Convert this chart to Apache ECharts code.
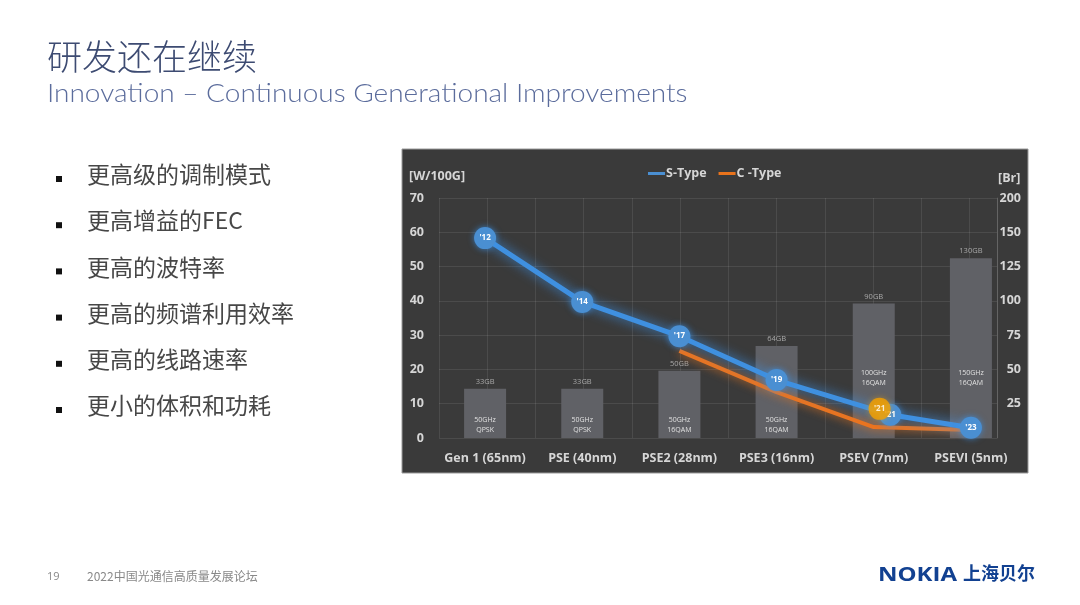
<!DOCTYPE html>
<html>
<head>
<meta charset="utf-8">
<script src="https://cdn.jsdelivr.net/npm/echarts@6/dist/echarts.min.js"></script>
<style>
html,body{margin:0;padding:0;background:#fff;}
#c{width:1080px;height:605px;}
</style>
</head>
<body>
<div id="c"></div>
<script>
// ---- data ----
const categories = ['Gen 1 (65nm)', 'PSE (40nm)', 'PSE2 (28nm)', 'PSE3 (16nm)', 'PSEV (7nm)', 'PSEVI (5nm)'];
const brValues = [36, 36, 49, 67, 98, 131];
const brTopLabels = ['33GB', '33GB', '50GB', '64GB', '90GB', '130GB'];
const brInnerLabels = ['50GHz\nQPSK', '50GHz\nQPSK', '50GHz\n16QAM', '50GHz\n16QAM', '100GHz\n16QAM', '150GHz\n16QAM'];
const sTypePos = [0, 1, 2, 3, 4.17, 5];
const sTypeValues = [58.3, 39.7, 29.7, 16.9, 6.8, 3.0];
const sTypeYears = ["'12", "'14", "'17", "'19", "'21", "'23"];
const cTypePos = [2, 3, 4, 5];
const cTypeValues = [25.4, 13.4, 3.2, 2.3];
const cMarkPos = [4.06];
const cMarkValues = [8.5];
const cMarkYears = ["'21"];
const leftTicks = [0, 10, 20, 30, 40, 50, 60, 70];
const rightTickLabels = ['', '25', '50', '75', '100', '125', '150', '200'];
const bullets = ['更高级的调制模式', '更高增益的FEC', '更高的波特率', '更高的频谱利用效率', '更高的线路速率', '更小的体积和功耗'];
const titleCN = '研发还在继续';
const titleEN = 'Innovation \u2013 Continuous Generational Improvements';
const footerPage = '19';
const footerText = '2022中国光通信高质量发展论坛';

// ---- chart ----
const chart = echarts.init(document.getElementById('c'));
const F = '"Open Sans", "Noto Sans", sans-serif';
const CJK = '"Noto Sans CJK SC", sans-serif';
const txt = '#d6d6d6';

const graphics = [
  {type:'rect', z:-10, shape:{x:402, y:149, width:626, height:324}, style:{fill:'#3a3a3a', stroke:'#9a9a9a', lineWidth:1}},
  {type:'text', left:47, top:39, style:{text:titleCN, font:'300 35px ' + CJK, fill:'#3d4b72'}},
  {type:'text', x:47, y:81, scaleX:1.12, style:{text:titleEN, font:'300 25px Lato, "Open Sans", sans-serif', fill:'#5b6c9c'}},
  {type:'text', left:409, top:170, style:{text:'[W/100G]', font:'bold 12.5px ' + F, fill:txt}},
  {type:'text', left:998, top:172, style:{text:'[Br]', font:'bold 12.5px ' + F, fill:txt}},
  {type:'text', left:47, top:571, style:{text:footerPage, font:'11px ' + F, fill:'#888'}},
  {type:'text', left:87, top:570, style:{text:footerText, font:'12px ' + CJK, fill:'#888'}},
  {type:'text', x:878, y:565, scaleX:1.2, style:{text:'NOKIA', font:'bold 20px ' + F, fill:'#124191'}},
  {type:'text', left:963, top:564, style:{text:'上海贝尔', font:'bold 18px ' + CJK, fill:'#124191'}}
];
bullets.forEach((b, i) => {
  const cy = 179 + i * 46.2;
  graphics.push({type:'rect', shape:{x:56, y:cy - 3, width:6, height:6}, style:{fill:'#111'}});
  graphics.push({type:'text', left:87, top:cy - 16, style:{text:b, font:'23px ' + CJK, fill:'#474747'}});
});

const option = {
  backgroundColor: '#fff',
  animation: false,
  graphic: graphics,
  legend: {
    left: 643, top: 162, itemWidth: 17, itemHeight: 3, itemGap: 12,
    data: [{name:'S-Type', icon:'rect'}, {name:'C -Type', icon:'rect'}],
    textStyle: {color: txt, fontFamily: F, fontWeight: 'bold', fontSize: 12.5, padding:[0,0,0,-4]}
  },
  grid: [
    {left: 436.5, top: 198, width: 583, height: 240},
    {left: 439, top: 198, width: 558, height: 240}
  ],
  xAxis: [
    {type:'category', gridIndex:0, data:categories,
     axisLine:{show:false}, axisTick:{show:false}, splitLine:{show:false},
     axisLabel:{interval:0, color:txt, fontFamily:F, fontWeight:'bold', fontSize:12.5, margin:14}},
    {type:'value', gridIndex:0, min:-0.5, max:5.5, show:false},
    {type:'value', gridIndex:1, min:0, max:11.57, interval:1,
     axisLine:{show:false}, axisTick:{show:false}, axisLabel:{show:false},
     splitLine:{show:true, lineStyle:{color:'rgba(255,255,255,0.09)', width:1}}}
  ],
  yAxis: [
    {type:'value', gridIndex:0, min:0, max:70, show:false},
    {type:'value', gridIndex:0, min:0, max:175, show:false},
    {type:'value', gridIndex:1, min:0, max:70, interval:10, position:'left',
     axisLine:{show:false}, axisTick:{show:false},
     axisLabel:{color:txt, fontFamily:F, fontWeight:'bold', fontSize:12.5, margin:15,
       formatter: v => String(leftTicks[Math.round(v/10)])},
     splitLine:{show:true, lineStyle:{color:'rgba(255,255,255,0.09)', width:1}}},
    {type:'value', gridIndex:1, min:0, max:70, interval:10, position:'right',
     axisLine:{show:true, lineStyle:{color:'rgba(255,255,255,0.14)'}}, axisTick:{show:false},
     axisLabel:{color:txt, fontFamily:F, fontWeight:'bold', fontSize:12.5, margin:24, align:'right',
       formatter: v => rightTickLabels[Math.round(v/10)]},
     splitLine:{show:false}}
  ],
  series: [
    {type:'bar', name:'Br', xAxisIndex:0, yAxisIndex:1, barWidth:42, z:1,
     data: brValues.map((v, i) => ({value:v, label:{formatter:brTopLabels[i]}})),
     itemStyle:{color:'#606166'},
     label:{show:true, position:'top', distance:3, color:'#a8a8a8', fontFamily:F, fontSize:7.5}},
    {type:'bar', name:'BrInner', xAxisIndex:0, yAxisIndex:1, barWidth:42, barGap:'-100%', z:1,
     data: brValues.map((v, i) => ({value:v, label:{formatter:brInnerLabels[i], distance: i >= 4 ? 50 : 3}})),
     itemStyle:{color:'rgba(0,0,0,0)'},
     label:{show:true, position:'insideBottom', color:'#e0e0e0', fontFamily:F, fontSize:7, lineHeight:10}},
    {type:'line', name:'C -Type', xAxisIndex:1, yAxisIndex:0, z:3,
     data: cTypePos.map((x, i) => [x, cTypeValues[i]]),
     showSymbol:false, symbol:'none', color:'#e8731c',
     lineStyle:{color:'#ea7420', width:4, shadowColor:'rgba(240,120,30,0.9)', shadowBlur:10}},
    {type:'line', name:'S-Type', xAxisIndex:1, yAxisIndex:0, z:4,
     data: sTypePos.map((x, i) => ({value:[x, sTypeValues[i]], label:{formatter:sTypeYears[i]}})),
     symbol:'circle', symbolSize:22, color:'#3d8ddc',
     lineStyle:{color:'#3f90e0', width:5, shadowColor:'rgba(60,150,240,0.9)', shadowBlur:12},
     itemStyle:{color:'#4a8fd2', shadowColor:'rgba(60,150,240,0.7)', shadowBlur:6},
     label:{show:true, position:'inside', color:'#fff', fontFamily:F, fontWeight:'bold', fontSize:8}},
    {type:'scatter', name:'C21', xAxisIndex:1, yAxisIndex:0, z:6,
     data: cMarkPos.map((x, i) => ({value:[x, cMarkValues[i]], label:{formatter:cMarkYears[i]}})),
     symbolSize:22, itemStyle:{color:'#f5a100', shadowColor:'rgba(245,160,0,0.6)', shadowBlur:6},
     label:{show:true, position:'inside', color:'#fff', fontFamily:F, fontWeight:'bold', fontSize:8}}
  ]
};
chart.setOption(option);
</script>
</body>
</html>
